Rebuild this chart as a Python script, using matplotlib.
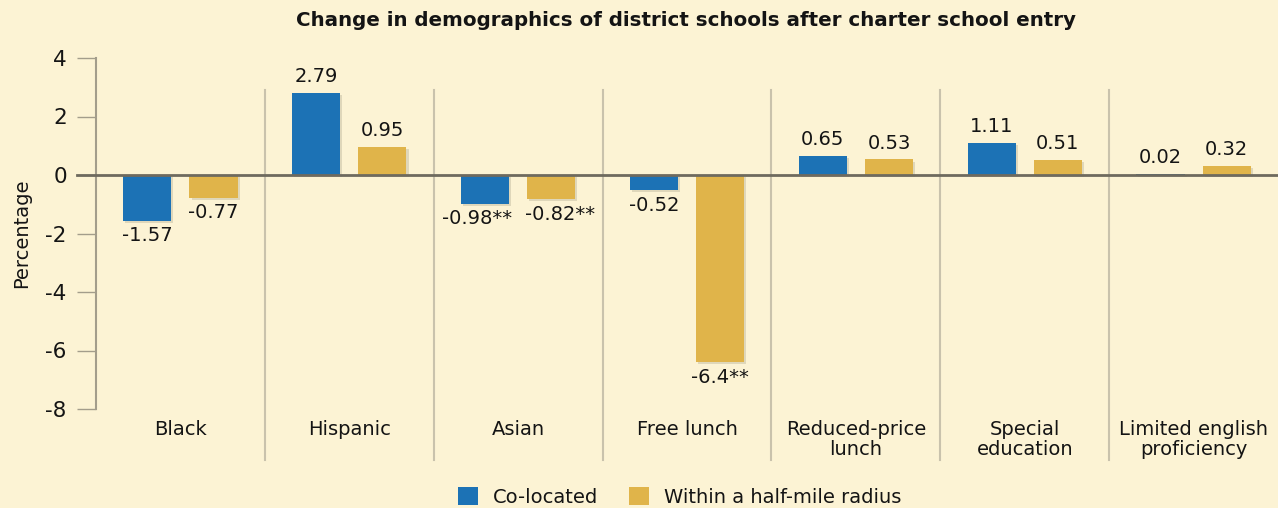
import matplotlib
matplotlib.use("Agg")
import matplotlib.pyplot as plt
import matplotlib.patheffects as pe
from matplotlib.patches import Patch
import numpy as np

categories = ["Black", "Hispanic", "Asian", "Free lunch",
              "Reduced-price\nlunch", "Special\neducation",
              "Limited english\nproficiency"]
colocated = [-1.57, 2.79, -0.98, -0.52, 0.65, 1.11, 0.02]
half_mile = [-0.77, 0.95, -0.82, -6.4, 0.53, 0.51, 0.32]
colocated_sig = ["", "", "**", "", "", "", ""]
half_mile_sig = ["", "", "**", "**", "", "", ""]
y_ticks = [4, 2, 0, -2, -4, -6, -8]

BG = "#fcf3d4"
BLUE = "#1c72b5"
GOLD = "#e0b44a"
TXT = "#141414"


def draw_bars(ax, xpos, values, sig, color, nudge):
    shadow = [pe.SimplePatchShadow(offset=(1.5, -1.5), shadow_rgbFace="#8a8470",
                                   alpha=0.25), pe.Normal()]
    bars = ax.bar(xpos, values, width=0.285, color=color, zorder=3)
    for i, (bar, v, s) in enumerate(zip(bars, values, sig)):
        bar.set_path_effects(shadow)
        label = f"{v:g}{s}"
        # push the starred labels of the same group apart a little
        dx = nudge if (s and i == 2) else 0
        if v >= 0:
            ax.annotate(label, (bar.get_x() + bar.get_width() / 2, v),
                        xytext=(dx, 5), textcoords="offset points",
                        ha="center", va="bottom", fontsize=14, color=TXT)
        else:
            ax.annotate(label, (bar.get_x() + bar.get_width() / 2, v),
                        xytext=(dx, -4), textcoords="offset points",
                        ha="center", va="top", fontsize=14, color=TXT)


def main():
    fig = plt.figure(figsize=(12.78, 5.08), dpi=100, facecolor=BG)
    ax = fig.add_axes([96 / 1278, 1 - 409 / 508, 1 - 96 / 1278, 351 / 508])
    ax.set_facecolor(BG)

    x = np.arange(len(categories))
    ax.set_xlim(-0.5, len(categories) - 0.5)
    ax.set_ylim(-8, 4)

    # separators between categories
    for sep in x[1:] - 0.5:
        ax.plot([sep, sep], [2.9, -9.75], color="#c9c2ac", lw=1.5,
                clip_on=False, zorder=1)

    draw_bars(ax, x - 0.196, colocated, colocated_sig, BLUE, -6)
    draw_bars(ax, x + 0.196, half_mile, half_mile_sig, GOLD, 6)

    ax.axhline(0, xmin=-0.016, xmax=1, color="#6e6a5e", lw=2,
               clip_on=False, zorder=4)

    for side in ["top", "right", "bottom"]:
        ax.spines[side].set_visible(False)
    ax.spines["left"].set_color("#a39d8b")
    ax.spines["left"].set_linewidth(1.5)

    ax.set_yticks(y_ticks)
    ax.set_yticklabels([str(t) for t in y_ticks])
    ax.tick_params(axis="y", length=14, width=1, color="#a39d8b", pad=7,
                   labelsize=15.5, labelcolor=TXT)
    ax.set_xticks(x)
    ax.set_xticklabels(categories)
    ax.tick_params(axis="x", length=0, pad=8, labelsize=14, labelcolor=TXT)
    for lab in ax.get_xticklabels():
        lab.set_linespacing(1.05)

    ax.set_ylabel("Percentage", fontsize=14, color=TXT, labelpad=10)

    fig.text(686 / 1278, 1 - 20 / 508,
             "Change in demographics of district schools after charter school entry",
             ha="center", va="center", fontsize=14.3, fontweight="bold",
             color=TXT)

    handles = [Patch(facecolor=BLUE, label="Co-located"),
               Patch(facecolor=GOLD, label="Within a half-mile radius")]
    fig.legend(handles=handles, loc="center", ncol=2, frameon=False,
               bbox_to_anchor=(680 / 1278, 1 - 497 / 508), fontsize=14,
               handlelength=1.0, handleheight=1.0, handletextpad=0.8,
               columnspacing=1.6, labelcolor=TXT)

    fig.savefig("out.png", dpi=100, facecolor=BG)


if __name__ == "__main__":
    main()
